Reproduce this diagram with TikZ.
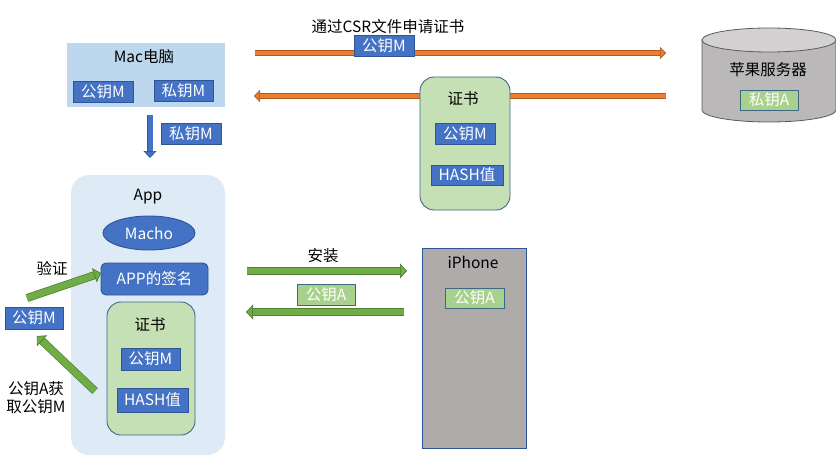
\documentclass[tikz,border=0pt]{standalone}
\usepackage{fontspec}
\setmainfont{Noto Sans CJK SC}
\usetikzlibrary{arrows.meta,shapes.geometric}
\definecolor{blueF}{HTML}{4472C4}
\definecolor{blueD}{HTML}{2F5597}
\definecolor{macF}{HTML}{BDD7EE}
\definecolor{appF}{HTML}{DEEBF7}
\definecolor{certF}{HTML}{C5E0B4}
\definecolor{slate}{HTML}{3E6785}
\definecolor{greenL}{HTML}{A9D18E}
\definecolor{orangeF}{HTML}{ED7D31}
\definecolor{orangeD}{HTML}{AE5A21}
\definecolor{greenF}{HTML}{70AD47}
\definecolor{greenD}{HTML}{507E32}
\definecolor{phoneF}{HTML}{AFABAB}
\definecolor{cylF}{HTML}{BAB8B8}
\definecolor{cylT}{HTML}{D3D1D1}
\definecolor{cylD}{HTML}{5A5A5A}
\tikzset{
  bluebox/.style={draw=blueD, fill=blueF, text=white, line width=0.9pt, inner sep=0pt, minimum height=21pt},
  greenlbl/.style={draw=slate, fill=greenL, text=white, line width=0.9pt, inner sep=0pt, minimum height=20pt},
  certbox/.style={draw=slate, fill=certF, rounded corners=14pt, line width=0.9pt, inner sep=0pt},
  lbl/.style={inner sep=0pt},
  orangearr/.style={preaction={draw=orangeD, line width=6.2pt, -, shorten >=4pt},
    draw=orangeF, line width=4.8pt,
    -{Triangle[length=6pt, width=12pt, fill=orangeF, color=orangeD, line width=0.7pt]}},
  bluearr/.style={preaction={draw=blueD, line width=6.2pt, -, shorten >=5pt},
    draw=blueF, line width=5pt,
    -{Triangle[length=7pt, width=13pt, fill=blueF, color=blueD, line width=0.7pt]}},
  greenarr/.style={preaction={draw=greenD, line width=8pt, -, shorten >=5pt},
    draw=greenF, line width=6.6pt,
    -{Triangle[length=7pt, width=15pt, fill=greenF, color=greenD, line width=0.7pt]}},
}
\begin{document}
\begin{tikzpicture}[x=1pt, y=-1pt, font=\fontsize{15.5}{18}\selectfont]
\useasboundingbox (0,0) rectangle (836,460);

% ---------- Mac ----------
\node[fill=macF, minimum width=158pt, minimum height=64pt, inner sep=0pt] (mac) at (146,75) {};
\node[lbl] (mactitle) at (144,57) {Mac电脑};
\node[bluebox, minimum width=60pt] (macpub) at (103,91.5) {公钥M};
\node[bluebox, minimum width=59pt] (macpriv) at (183.5,91) {私钥M};

\coordinate (d1) at (150,115);
\coordinate (d2) at (150,158);
\draw[bluearr] (d1) -- (d2);
\node[bluebox, minimum width=60pt] (privlbl) at (191,133.5) {私钥M};

% ---------- Server ----------
\path[fill=cylF, draw=cylD, line width=0.8pt] (702,40) -- (702,110)
  arc[start angle=180, end angle=360, x radius=67pt, y radius=12pt] -- (836,40) -- cycle;
\draw[fill=cylT, draw=cylD, line width=0.8pt] (769,40) ellipse[x radius=67pt, y radius=12pt];
\node[lbl] (server) at (768,70) {苹果服务器};
\node[greenlbl, minimum width=58pt] (srvpriv) at (769,100) {私钥A};

% ---------- top arrows ----------
\coordinate (t1) at (255,53);
\coordinate (t2) at (666,53);
\draw[orangearr] (t1) -- (t2);
\node[lbl] (csr) at (388,27) {通过CSR文件申请证书};
\node[bluebox, minimum width=60pt] (csrpub) at (384,45.5) {公钥M};

\coordinate (r1) at (666,96);
\coordinate (r2) at (254,96);
\draw[orangearr] (r1) -- (r2);

% ---------- certificate (top) ----------
\node[certbox, minimum width=90pt, minimum height=133pt] (cert) at (465,143.5) {};
\node[lbl] (certtitle) at (463,99) {证书};
\node[bluebox, minimum width=60pt] (certpub) at (465,133.5) {公钥M};
\node[bluebox, minimum width=72pt, minimum height=20pt] (certhash) at (467,175) {HASH值};

% ---------- App ----------
\node[fill=appF, minimum width=154pt, minimum height=280pt, rounded corners=18pt, inner sep=0pt] (app) at (148,315) {};
\node[lbl] (apptitle) at (148,197) {App};
\node[ellipse, draw=blueD, fill=blueF, text=white, line width=0.9pt, minimum width=92pt, minimum height=34pt, inner sep=0pt] (macho) at (149,233) {Macho};
\node[bluebox, rounded corners=5pt, minimum width=107pt, minimum height=32pt] (sig) at (154.5,279) {APP的签名};
\node[certbox, minimum width=88pt, minimum height=133pt] (icert) at (151,368.5) {};
\node[lbl] (icerttitle) at (150,325) {证书};
\node[bluebox, minimum width=59pt, minimum height=22pt] (icertpub) at (150.5,359) {公钥M};
\node[bluebox, minimum width=71pt, minimum height=24pt] (icerthash) at (152.5,400) {HASH值};

% ---------- left side ----------
\node[bluebox, minimum width=58pt, minimum height=22pt] (leftpub) at (34,318) {公钥M};
\node[lbl] (verify) at (52,268) {验证};
\coordinate (v1) at (27,298);
\coordinate (v2) at (101,273);
\draw[greenarr] (v1) -- (v2);
\coordinate (g1) at (95,391);
\coordinate (g2) at (37,336);
\draw[greenarr] (g1) -- (g2);
\node[lbl, align=center] (gettext) at (36,398) {公钥A获\\取公钥M};

% ---------- middle ----------
\node[lbl] (install) at (323,256) {安装};
\coordinate (m1) at (247,271);
\coordinate (m2) at (407,271);
\draw[greenarr] (m1) -- (m2);
\coordinate (n1) at (404,312);
\coordinate (n2) at (246,312);
\draw[greenarr] (n1) -- (n2);
\node[greenlbl, minimum width=58pt, minimum height=21pt] (midpubA) at (326,294.5) {公钥A};

% ---------- iPhone ----------
\node[draw=blueD, fill=phoneF, line width=0.9pt, minimum width=104pt, minimum height=200pt, inner sep=0pt] (phone) at (474,348) {};
\node[lbl] (phonetitle) at (473,262) {iPhone};
\node[greenlbl, minimum width=59pt] (phonepub) at (474.5,298) {公钥A};
\end{tikzpicture}
\end{document}
